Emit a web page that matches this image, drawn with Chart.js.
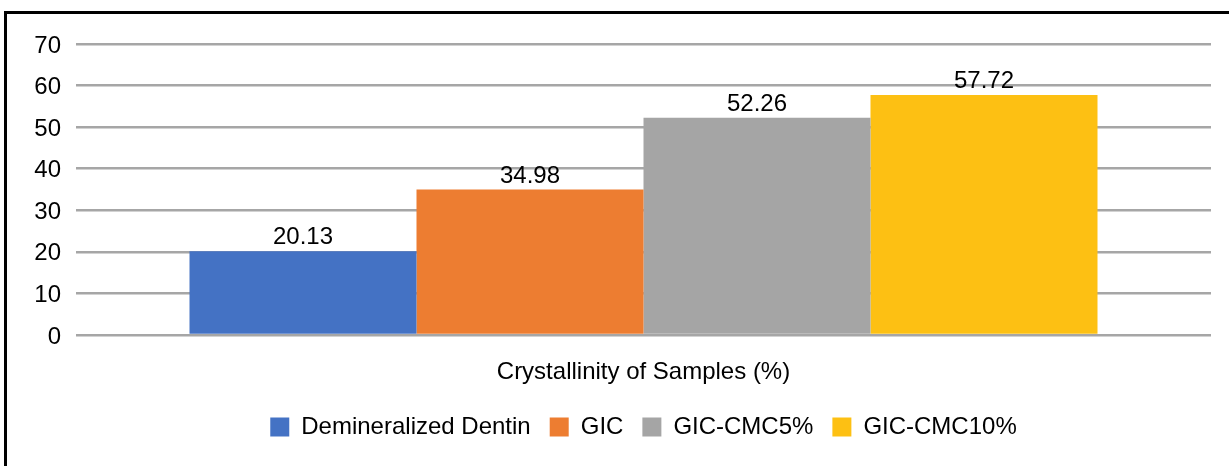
<!DOCTYPE html>
<html>
<head>
<meta charset="utf-8">
<script src="https://cdn.jsdelivr.net/npm/chart.js@4"></script>
<style>
  html, body { margin: 0; padding: 0; background: #fff; overflow: hidden; }
  #frame { position: absolute; left: 4px; top: 11px; width: 1400px; height: 600px;
           border-left: 3px solid #000; border-top: 3px solid #000; box-sizing: border-box; }
  #wrap { position: absolute; left: 0; top: 0; width: 1229px; height: 466px; }
</style>
</head>
<body>
<div id="frame"></div>
<div id="wrap"><canvas id="c" width="1229" height="466"></canvas></div>
<script>
const categories = ["Crystallinity of Samples (%)"];
const seriesNames = ["Demineralized Dentin", "GIC", "GIC-CMC5%", "GIC-CMC10%"];
const seriesValues = [[20.13], [34.98], [52.26], [57.72]];
const seriesColors = ["#4472C4", "#ED7D31", "#A5A5A5", "#FDC013"];
const yTicks = [0, 10, 20, 30, 40, 50, 60, 70];

const FONT = "'Liberation Sans', Arial, sans-serif";
const FS = 24;

const valueLabels = {
  id: 'valueLabels',
  afterDatasetsDraw(chart) {
    const ctx = chart.ctx;
    ctx.save();
    ctx.font = FS + "px " + FONT;
    ctx.fillStyle = "#000";
    ctx.textAlign = "center";
    ctx.textBaseline = "alphabetic";
    chart.data.datasets.forEach((ds, i) => {
      const meta = chart.getDatasetMeta(i);
      meta.data.forEach((bar, j) => {
        ctx.fillText(ds.data[j].toFixed(2), bar.x, bar.y - 7);
      });
    });
    ctx.restore();
  }
};

new Chart(document.getElementById('c'), {
  type: 'bar',
  data: {
    labels: categories,
    datasets: seriesNames.map((n, i) => ({
      label: n,
      data: seriesValues[i],
      backgroundColor: seriesColors[i],
      borderWidth: 0,
      categoryPercentage: 0.8,
      barPercentage: 1.0
    }))
  },
  options: {
    responsive: false,
    animation: false,
    devicePixelRatio: 1,
    layout: { padding: { left: 0, right: 18, top: 44, bottom: 17 } },
    plugins: {
      tooltip: { enabled: false },
      legend: {
        position: 'bottom',
        fullSize: false,
        labels: {
          boxWidth: 19, boxHeight: 19, padding: 19,
          color: '#000',
          font: { family: FONT, size: FS }
        }
      }
    },
    scales: {
      x: {
        grid: { display: false, drawTicks: false },
        border: { display: false },
        afterFit(axis) { axis.height = 61; },
        ticks: { color: '#000', padding: 23, font: { family: FONT, size: FS } }
      },
      y: {
        min: 0, max: 70,
        afterBuildTicks(axis) { axis.ticks = yTicks.map(v => ({ value: v })); },
        afterFit(axis) { axis.width = 76; },
        grid: { color: '#A6A6A6', lineWidth: 2.5, drawTicks: false },
        border: { display: false },
        ticks: { color: '#000', padding: 15, labelOffset: 2, font: { family: FONT, size: FS } }
      }
    }
  },
  plugins: [valueLabels]
});
</script>
</body>
</html>
